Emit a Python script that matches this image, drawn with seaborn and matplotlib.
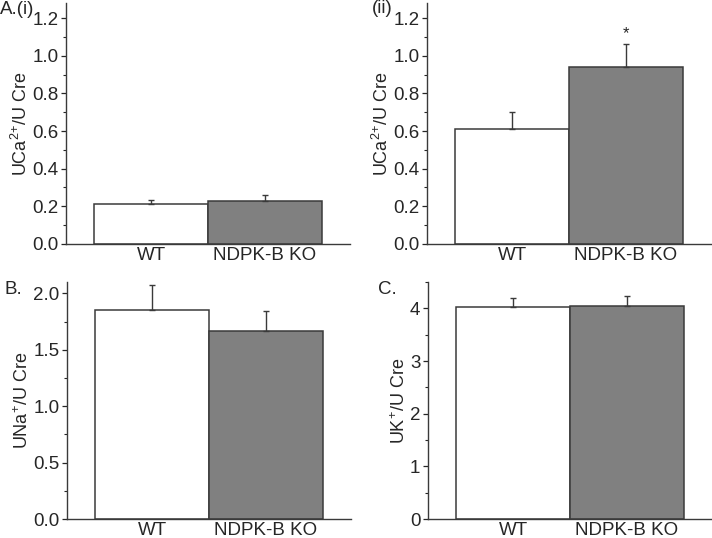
"""
Urinary electrolyte / creatinine ratios, WT vs NDPK-B KO
"""
import matplotlib
matplotlib.use("Agg")
import matplotlib.pyplot as plt
import seaborn as sns
from matplotlib.ticker import MultipleLocator

GROUPS = ["WT", "NDPK-B KO"]

CA_I = [0.21, 0.23]
CA_I_ERR = [0.025, 0.03]
CA_II = [0.61, 0.94]
CA_II_ERR = [0.09, 0.12]
NA = [1.85, 1.67]
NA_ERR = [0.22, 0.17]
K = [4.02, 4.05]
K_ERR = [0.17, 0.18]

EDGE = "#3a3a3a"
FILLS = ["#ffffff", "#808080"]


def bar_panel(ax, vals, errs, ylim, major, minor, ylabel):
    sns.barplot(x=GROUPS, y=vals, hue=GROUPS, palette=FILLS, width=1.0,
                edgecolor=EDGE, linewidth=1.1, legend=False, ax=ax)
    ax.errorbar([0, 1], vals, yerr=[[0, 0], errs], fmt="none", ecolor=EDGE,
                elinewidth=1.0, capsize=2.5, capthick=1.0, zorder=5)
    ax.set_xlim(-0.75, 1.75)
    ax.set_ylim(*ylim)
    ax.yaxis.set_major_locator(MultipleLocator(major))
    ax.yaxis.set_minor_locator(MultipleLocator(minor))
    ax.set_ylabel(ylabel, fontsize=13, labelpad=0.5)
    ax.set_xlabel("")
    ax.tick_params(axis="x", length=0, pad=2, labelsize=13.5)
    ax.tick_params(axis="y", which="major", length=3.5, width=0.9, labelsize=13.5, pad=2)
    ax.tick_params(axis="y", which="minor", length=2, width=0.8)
    for s in ["top", "right"]:
        ax.spines[s].set_visible(False)
    for s in ["left", "bottom"]:
        ax.spines[s].set_color(EDGE)
        ax.spines[s].set_linewidth(1.0)


def main():
    sns.set_style("ticks")
    plt.rcParams["font.family"] = ["Liberation Sans", "DejaVu Sans"]
    plt.rcParams["mathtext.fontset"] = "custom"
    plt.rcParams["mathtext.rm"] = "Liberation Sans"
    plt.rcParams["mathtext.it"] = "Liberation Sans"
    plt.rcParams["mathtext.bf"] = "Liberation Sans"

    fig = plt.figure(figsize=(7.12, 5.38), dpi=100)
    ax1 = fig.add_axes([0.0927, 0.5465, 0.3989, 0.448])
    ax2 = fig.add_axes([0.5997, 0.5465, 0.399, 0.448])
    ax3 = fig.add_axes([0.0941, 0.0353, 0.3989, 0.4405])
    ax4 = fig.add_axes([0.6011, 0.0353, 0.399, 0.4405])

    ca_label = r"UCa$^{\mathrm{2{+}}}$/U Cre"
    bar_panel(ax1, CA_I, CA_I_ERR, (0, 1.28), 0.2, 0.1, ca_label)
    bar_panel(ax2, CA_II, CA_II_ERR, (0, 1.28), 0.2, 0.1, ca_label)
    bar_panel(ax3, NA, NA_ERR, (0, 2.1), 0.5, 0.25, r"UNa$^{\mathrm{{+}}}$/U Cre")
    bar_panel(ax4, K, K_ERR, (0, 4.5), 1, 0.5, r"UK$^{\mathrm{{+}}}$/U Cre")

    # significance marker
    ax2.text(1, CA_II[1] + CA_II_ERR[1] + 0.015, "*", ha="center", va="bottom", fontsize=12)

    fig.text(0.0, 1 - 9.5 / 538, "A.(i)", fontsize=13.5, va="center", ha="left")
    fig.text(372 / 712, 1 - 8.5 / 538, "(ii)", fontsize=13.5, va="center", ha="left")
    fig.text(4 / 712, 1 - 289 / 538, "B.", fontsize=13.5, va="center", ha="left")
    fig.text(378 / 712, 1 - 290 / 538, "C.", fontsize=13.5, va="center", ha="left")

    fig.savefig("out.png", dpi=100)
    plt.close(fig)


if __name__ == "__main__":
    main()
